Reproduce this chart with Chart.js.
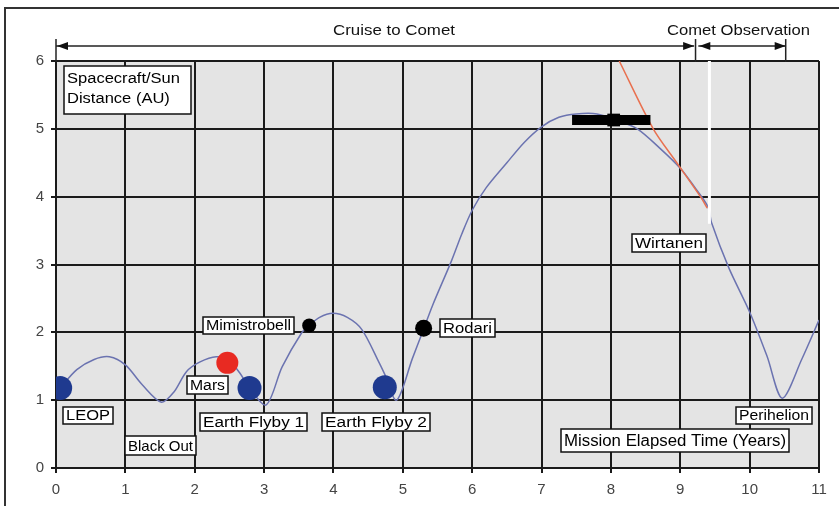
<!DOCTYPE html>
<html>
<head>
<meta charset="utf-8">
<script src="https://cdn.jsdelivr.net/npm/chart.js@4/dist/chart.umd.min.js"></script>
<style>
html, body { margin: 0; padding: 0; background: #fff; }
</style>
</head>
<body>
<canvas id="distChart" width="839" height="506"></canvas>
<script>
// Spacecraft/Sun distance over the mission

const xTicks = [0, 1, 2, 3, 4, 5, 6, 7, 8, 9, 10, 11];
const yTicks = [0, 1, 2, 3, 4, 5, 6];

// spacecraft trajectory (years, AU)
const pathYears = [0.06, 0.3, 0.55, 0.77, 1.0, 1.25, 1.52, 1.7, 1.88, 2.07, 2.31, 2.5, 2.65, 2.79, 3.03,
    3.26, 3.54, 3.65, 3.8, 3.99, 4.2, 4.41, 4.66, 4.74, 4.91, 5.14, 5.29, 5.43, 5.7, 5.85, 6.0, 6.2,
    6.5, 6.75, 7.0, 7.25, 7.5, 7.8, 8.1, 8.38, 8.7, 9.0, 9.2, 9.4, 9.45, 9.7, 10.0, 10.25, 10.47,
    10.75, 11.0];
const pathAU = [1.18, 1.45, 1.6, 1.64, 1.52, 1.22, 0.97, 1.12, 1.42, 1.56, 1.64, 1.58, 1.4, 1.18, 0.93,
    1.49, 1.99, 2.1, 2.22, 2.28, 2.22, 2.04, 1.55, 1.38, 1.0, 1.62, 2.02, 2.4, 3.05, 3.45, 3.8, 4.13,
    4.5, 4.8, 5.03, 5.17, 5.22, 5.22, 5.12, 5.0, 4.72, 4.42, 4.15, 3.85, 3.62, 2.95, 2.3, 1.65, 1.03,
    1.6, 2.18];

// comet track
const cometYears = [8.12, 8.61, 8.95, 9.29, 9.39];
const cometAU = [6.0, 5.0, 4.5, 4.0, 3.83];

// events along the way
const eventNames = ['LEOP', 'Mars', 'Earth Flyby 1', 'Mimistrobell', 'Earth Flyby 2', 'Rodari'];
const eventYears = [0.06, 2.47, 2.79, 3.65, 4.74, 5.3];
const eventAU = [1.18, 1.55, 1.18, 2.1, 1.19, 2.06];

// aphelion window bar
const barYears = [7.44, 8.57];
const barAU = [5.13, 5.13];
const barMarkYear = [8.04];

// rendezvous marker
const gapYears = [9.42, 9.42];
const gapAU = [6.0, 3.6];

// mission phases
const phaseNames = ['Cruise to Comet', 'Comet Observation'];
const phaseStart = [0, 9.26];
const phaseEnd = [9.2, 10.52];

Chart.defaults.font.family = '"Liberation Sans", Arial, sans-serif';

const toPts = (xs, ys) => xs.map((x, i) => ({ x: x, y: ys[i] }));

// grey plot area and the thin outer frame
const backdrop = {
    id: 'backdrop',
    beforeDraw(chart) {
        const { ctx, chartArea: a } = chart;
        ctx.save();
        ctx.fillStyle = '#fff';
        ctx.fillRect(0, 0, chart.width, chart.height);
        ctx.fillStyle = '#e4e4e4';
        ctx.fillRect(a.left, a.top, a.right - a.left, a.bottom - a.top);
        ctx.strokeStyle = '#333';
        ctx.lineWidth = 2;
        ctx.beginPath();
        ctx.moveTo(5, chart.height);
        ctx.lineTo(5, 8);
        ctx.lineTo(chart.width, 8);
        ctx.stroke();
        ctx.restore();
    }
};

function arrowHead(ctx, x, y, dir) {
    ctx.beginPath();
    ctx.moveTo(x, y);
    ctx.lineTo(x - dir * 11, y - 4);
    ctx.lineTo(x - dir * 11, y + 4);
    ctx.closePath();
    ctx.fill();
}

function stretchText(ctx, text, x, y, width) {
    const sx = width / ctx.measureText(text).width;
    ctx.save();
    ctx.translate(x, y);
    ctx.scale(sx, 1);
    ctx.fillText(text, 0, 0);
    ctx.restore();
}

// phase arrows above the plot
const phases = {
    id: 'phases',
    afterDraw(chart) {
        const { ctx, chartArea: a, scales: { x } } = chart;
        const y = a.top - 15;
        ctx.save();
        ctx.strokeStyle = '#222';
        ctx.fillStyle = '#111';
        ctx.lineWidth = 1.5;
        const textW = [122, 143];
        const textX = [333, 667];
        phaseNames.forEach((name, i) => {
            const x0 = x.getPixelForValue(phaseStart[i]);
            const x1 = x.getPixelForValue(phaseEnd[i]);
            ctx.beginPath();
            ctx.moveTo(x0, y);
            ctx.lineTo(x1, y);
            ctx.stroke();
            arrowHead(ctx, x0 + 1, y, -1);
            arrowHead(ctx, x1, y, 1);
            ctx.font = '14px "Liberation Sans", Arial, sans-serif';
            ctx.textBaseline = 'alphabetic';
            stretchText(ctx, name, textX[i], 35, textW[i]);
        });
        [0, 9.22, 10.52].forEach(v => {
            const px = x.getPixelForValue(v);
            ctx.beginPath();
            ctx.moveTo(px, y - 7);
            ctx.lineTo(px, a.top + 1);
            ctx.stroke();
        });
        ctx.restore();
    }
};

// boxed text labels inside the plot
const notes = [
    { lines: ['Spacecraft/Sun', 'Distance (AU)'], x: 0.115, y: 5.575, w: 127, h: 48, tw: 113 },
    { lines: [eventNames[0]], x: 0.10, y: 0.77, w: 50, h: 17 },
    { lines: ['Black Out'], x: 0.99, y: 0.33, w: 71, h: 19, size: 15 },
    { lines: [eventNames[1]], x: 1.89, y: 1.22, w: 41, h: 18 },
    { lines: [eventNames[3]], x: 2.12, y: 2.10, w: 91, h: 17 },
    { lines: [eventNames[2]], x: 2.08, y: 0.68, w: 107, h: 18 },
    { lines: [eventNames[4]], x: 3.84, y: 0.68, w: 108, h: 18 },
    { lines: [eventNames[5]], x: 5.54, y: 2.06, w: 55, h: 18 },
    { lines: ['Wirtanen'], x: 8.30, y: 3.32, w: 74, h: 18 },
    { lines: ['Perihelion'], x: 9.80, y: 0.77, w: 76, h: 17 },
    { lines: ['Mission Elapsed Time (Years)'], x: 7.28, y: 0.41, w: 228, h: 23, size: 16 }
];

const noteBoxes = {
    id: 'noteBoxes',
    afterDatasetsDraw(chart) {
        const { ctx, scales: { x, y } } = chart;
        ctx.save();
        notes.forEach(n => {
            const left = Math.round(x.getPixelForValue(n.x));
            const top = Math.round(y.getPixelForValue(n.y) - n.h / 2);
            ctx.fillStyle = '#fff';
            ctx.fillRect(left, top, n.w, n.h);
            ctx.strokeStyle = '#111';
            ctx.lineWidth = 1.5;
            ctx.strokeRect(left, top, n.w, n.h);
            ctx.fillStyle = '#000';
            ctx.font = (n.size || 14) + 'px "Liberation Sans", Arial, sans-serif';
            ctx.textBaseline = 'middle';
            if (n.lines.length === 1) {
                stretchText(ctx, n.lines[0], left + 3, top + n.h / 2 + 1, n.w - 6);
            } else {
                const sx = n.tw / ctx.measureText(n.lines[0]).width;
                n.lines.forEach((line, i) => {
                    ctx.save();
                    ctx.translate(left + 3, top + 13 + i * 20);
                    ctx.scale(sx, 1);
                    ctx.fillText(line, 0, 0);
                    ctx.restore();
                });
            }
        });
        ctx.restore();
    }
};

const chart = new Chart(document.getElementById('distChart'), {
    type: 'scatter',
    data: {
        datasets: [
            {
                label: 'Events',
                data: toPts(eventYears, eventAU),
                pointRadius: [12, 11, 12, 7, 12, 8.5],
                pointBackgroundColor: ['#1f3a8f', '#e82a22', '#1f3a8f', '#000', '#1f3a8f', '#000'],
                pointBorderWidth: 0,
                showLine: false,
                order: 0
            },
            {
                label: 'Bar mark',
                data: toPts(barMarkYear, [barAU[0]]),
                pointStyle: 'rect',
                pointRadius: 9,
                pointBackgroundColor: '#000',
                pointBorderWidth: 0,
                showLine: false,
                order: 1
            },
            {
                label: 'Aphelion',
                data: toPts(barYears, barAU),
                showLine: true,
                borderColor: '#000',
                borderWidth: 10,
                borderCapStyle: 'butt',
                pointRadius: 0,
                order: 2
            },
            {
                label: 'Gap',
                data: toPts(gapYears, gapAU),
                showLine: true,
                borderColor: '#fff',
                borderWidth: 3,
                pointRadius: 0,
                order: 3
            },
            {
                label: 'Comet',
                data: toPts(cometYears, cometAU),
                showLine: true,
                borderColor: '#e9704f',
                borderWidth: 1.5,
                tension: 0.3,
                pointRadius: 0,
                order: 4
            },
            {
                label: 'Spacecraft',
                data: toPts(pathYears, pathAU),
                showLine: true,
                borderColor: '#6b73b0',
                borderWidth: 1.5,
                tension: 0.3,
                pointRadius: 0,
                order: 5
            }
        ]
    },
    options: {
        responsive: false,
        animation: false,
        layout: { padding: { top: 61, right: 20, left: 0, bottom: 0 } },
        plugins: {
            legend: { display: false },
            tooltip: { enabled: false }
        },
        scales: {
            x: {
                type: 'linear',
                min: 0,
                max: 11,
                afterBuildTicks: s => { s.ticks = xTicks.map(v => ({ value: v })); },
                afterFit: s => { s.height = 38; },
                grid: { color: '#1a1a1a', lineWidth: 2, tickLength: 5, tickColor: '#1a1a1a' },
                border: { color: '#1a1a1a', width: 2 },
                ticks: { color: '#444', font: { size: 15 }, padding: 8, maxRotation: 0 }
            },
            y: {
                min: 0,
                max: 6,
                afterBuildTicks: s => { s.ticks = yTicks.map(v => ({ value: v })); },
                afterFit: s => { s.width = 56; },
                grid: { color: '#1a1a1a', lineWidth: 2, tickLength: 5, tickColor: '#1a1a1a' },
                border: { color: '#1a1a1a', width: 2 },
                ticks: { color: '#444', font: { size: 15 }, padding: 7 }
            }
        }
    },
    plugins: [backdrop, phases, noteBoxes]
});
</script>
</body>
</html>
